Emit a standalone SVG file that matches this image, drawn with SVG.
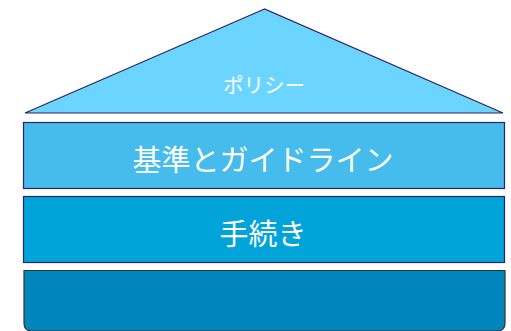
<svg xmlns="http://www.w3.org/2000/svg" width="511" height="331" viewBox="0 0 511 331">
<style>
.t{fill:#fff;font-family:"Noto Sans CJK JP","Noto Sans",sans-serif;text-anchor:middle;dominant-baseline:central}
.s{stroke:#2b2466;stroke-width:1.2}
</style>
<rect width="511" height="331" fill="#fff"/>
<g id="policy">
<polygon class="s" points="264.5,9 25,113 503,113" fill="#6bd5ff"/>
<text class="t" x="264" y="84" font-size="20.5">ポリシー</text>
</g>
<g id="standards">
<rect class="s" x="23.5" y="122.5" width="481" height="66" fill="#45bceb" stroke="#4a4a8a"/>
<text class="t" x="263" y="158" font-size="29">基準とガイドライン</text>
</g>
<g id="procedures">
<rect class="s" x="23.5" y="196.5" width="481" height="66" fill="#00a4d9"/>
<text class="t" x="263" y="232" font-size="29">手続き</text>
</g>
<g id="base">
<path d="M24,270.5 H505 V323 Q505,331 497,331 H32 Q24,331 24,323 Z" fill="#0086bd" stroke="#333" stroke-width="1.2"/>
</g>
<g id="connectors"/>
</svg>
